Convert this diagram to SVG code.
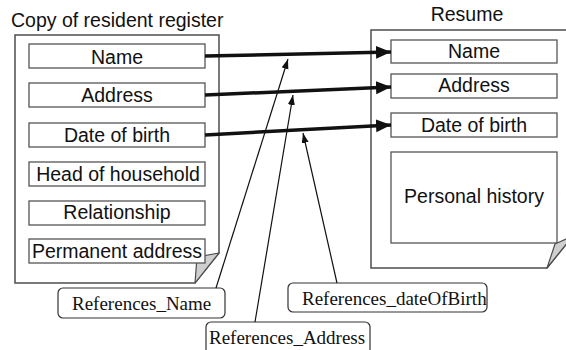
<svg xmlns="http://www.w3.org/2000/svg" width="566" height="350" viewBox="0 0 566 350">
  <style>
    .page { fill: #ffffff; stroke: #4d4d4d; stroke-width: 1.5; }
    .flap { fill: #cfcfcf; stroke: #4d4d4d; stroke-width: 1.2; stroke-linejoin: round; }
    .field { fill: #ffffff; stroke: #555555; stroke-width: 1.3; }
    .title { font-family: "Liberation Sans", Arial, sans-serif; font-size: 19.5px; fill: #111111; }
    .ftext { font-family: "Liberation Sans", Arial, sans-serif; font-size: 19.5px; fill: #111111; text-anchor: middle; }
    .ref { fill: #ffffff; stroke: #333333; stroke-width: 1.2; }
    .reftext { font-family: "Liberation Serif", "Times New Roman", serif; font-size: 19px; fill: #111111; }
    .map { stroke: #111111; stroke-width: 3.5; fill: none; marker-end: url(#bigHead); }
    .point { stroke: #111111; stroke-width: 1.2; fill: none; marker-end: url(#smallHead); }
  </style>
  <defs>
    <marker id="bigHead" markerUnits="userSpaceOnUse" markerWidth="16" markerHeight="14" refX="15" refY="6.5" orient="auto">
      <path d="M0,0 L15,6.5 L0,13 Z" fill="#111111"/>
    </marker>
    <marker id="smallHead" markerUnits="userSpaceOnUse" markerWidth="11" markerHeight="8" refX="10" refY="3.5" orient="auto">
      <path d="M0,0 L10,3.5 L0,7 Z" fill="#111111"/>
    </marker>
  </defs>

  <!-- resident register sheet -->
  <g id="register">
    <text class="title" x="11" y="27">Copy of resident register</text>
    <path class="page" d="M15,35 H219 V253 L195,283 H15 Z"/>
    <path class="flap" d="M219,253 L197,257 L195,283 Z"/>
  </g>
  <g id="reg-name">
    <rect class="field" x="29" y="44" width="176" height="24"/>
    <text class="ftext" x="117" y="64">Name</text>
  </g>
  <g id="reg-address">
    <rect class="field" x="29" y="83" width="176" height="24"/>
    <text class="ftext" x="117" y="102">Address</text>
  </g>
  <g id="reg-dob">
    <rect class="field" x="29" y="123" width="176" height="24"/>
    <text class="ftext" x="117" y="142">Date of birth</text>
  </g>
  <g id="reg-head">
    <rect class="field" x="29" y="162" width="176" height="24"/>
    <text class="ftext" x="118" y="181">Head of household</text>
  </g>
  <g id="reg-relationship">
    <rect class="field" x="29" y="201" width="176" height="24"/>
    <text class="ftext" x="117" y="219">Relationship</text>
  </g>
  <g id="reg-permanent">
    <rect class="field" x="29" y="239" width="176" height="24"/>
    <text class="ftext" x="117" y="258">Permanent address</text>
  </g>

  <!-- resume sheet -->
  <g id="resume">
    <text class="title" x="467" y="21" text-anchor="middle">Resume</text>
    <path class="page" d="M371,30 H572 V237 L547,268 H371 Z"/>
  </g>
  <g id="res-name">
    <rect class="field" x="391" y="40" width="166" height="23"/>
    <text class="ftext" x="474" y="58">Name</text>
  </g>
  <g id="res-address">
    <rect class="field" x="391" y="74" width="166" height="24"/>
    <text class="ftext" x="474" y="92">Address</text>
  </g>
  <g id="res-dob">
    <rect class="field" x="391" y="113" width="166" height="24"/>
    <text class="ftext" x="474" y="132">Date of birth</text>
  </g>
  <g id="res-history">
    <rect class="field" x="391" y="152" width="166" height="91"/>
    <text class="ftext" x="474" y="203">Personal history</text>
  </g>
  <path class="flap" d="M566,239 L555,244 L547,268 L572,237 Z"/>

  <!-- reference labels -->
  <g id="ref-name">
    <rect class="ref" x="58" y="288" width="167" height="30" rx="5"/>
    <text class="reftext" x="72" y="310">References_Name</text>
  </g>
  <g id="ref-address">
    <rect class="ref" x="206" y="322" width="164" height="32" rx="5"/>
    <text class="reftext" x="209" y="344">References_Address</text>
  </g>
  <g id="ref-dob">
    <rect class="ref" x="288" y="283" width="199" height="29" rx="5"/>
    <text class="reftext" x="302" y="305">References_dateOfBirth</text>
  </g>

  <!-- connectors -->
  <g id="connectors">
    <line class="map" x1="205" y1="56" x2="391" y2="52"/>
    <line class="map" x1="205" y1="95" x2="391" y2="87"/>
    <line class="map" x1="205" y1="135" x2="391" y2="125"/>
    <line class="point" x1="216" y1="288" x2="288" y2="59"/>
    <line class="point" x1="255" y1="322" x2="293" y2="95"/>
    <line class="point" x1="337" y1="283" x2="303" y2="133"/>
  </g>
</svg>
